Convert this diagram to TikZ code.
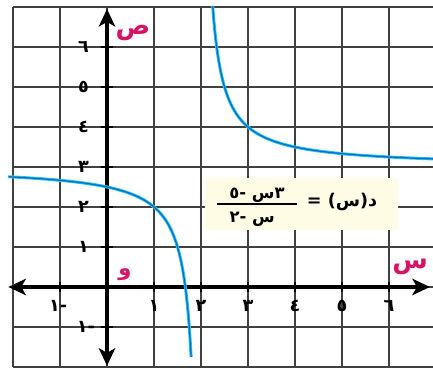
\documentclass[tikz,border=0pt]{standalone}
\usepackage{fontspec}
\newfontfamily\arabicfont[Script=Arabic]{DejaVu Sans}
\TeXXeTstate=1
\usetikzlibrary{arrows.meta}
\definecolor{curveblue}{RGB}{10,110,195}
\definecolor{curvecyan}{RGB}{40,195,240}
\definecolor{lblpink}{RGB}{215,20,100}
\definecolor{boxcream}{RGB}{255,252,230}
\begin{document}
\begin{tikzpicture}[x=1.41cm, y=1.2cm,
  gridline/.style={black!75, line width=0.9pt},
  axis/.style={line width=3pt, {Stealth[length=15pt,width=14pt,inset=4pt]}-{Stealth[length=15pt,width=14pt,inset=4pt]}},
  tick/.style={line width=2.4pt},
  num/.style={font=\arabicfont\bfseries\fontsize{15}{17}\selectfont, inner sep=1pt},
  formula/.style={font=\arabicfont\bfseries\fontsize{14}{16}\selectfont, inner sep=1pt},
  letter/.style={font=\arabicfont\bfseries\fontsize{22}{24}\selectfont, text=lblpink, inner sep=0pt}]
  \useasboundingbox (-2.277,-2.025) rectangle (6.936,7.175);
  % grid
  \foreach \i in {-2,...,6} \draw[gridline] (\i,-2) -- (\i,7);
  \foreach \j in {-2,...,7} \draw[gridline] (-2,\j) -- (6.936,\j);
  \fill[boxcream] (2.09,1.43) rectangle (6.19,2.72);
  \draw[axis] (-2.1,0) -- (6.87,0);
  \draw[axis] (0,-1.97) -- (0,6.95);
  \foreach \i in {-1,1,2,...,6} \draw[tick] (\i,-0.13) -- (\i,0.13);
  \foreach \j in {-1,1,2,...,6} \draw[tick] (-0.13,\j) -- (0.13,\j);
  % axis numbers
  \foreach \i/\d in {1/١,2/٢,3/٣,4/٤,5/٥,6/٦} {
    \node[num] (x\i) at (\i,-0.47) {\d};
    \node[num] (y\i) at (-0.5,\i) {\d};
  }
  \node[num] (xm1) at (-1.04,-0.47) {\beginR-١\endR};
  \node[num] (ym1) at (-0.45,-1) {\beginR-١\endR};
  % axis letters
  \node[letter] (ylbl) at (0.55,6.35) {ص};
  \node[letter] (xlbl) at (6.45,0.5) {س};
  \node[letter, font=\arabicfont\bfseries\fontsize{18}{20}\selectfont] (orig) at (0.38,0.3) {و};
  % the curve
  \begin{scope}
    \clip (-2.277,-2.025) rectangle (6.936,7);
    \foreach \c/\w in {curvecyan/2.6pt, curveblue/1.1pt} {
      \draw[\c, line width=\w, domain=-2.1:1.79, samples=120, smooth] plot (\x,{3+1/(\x-2)});
      \draw[\c, line width=\w, domain=2.13:6.95, samples=200, smooth] plot (\x,{3+1/(\x-2)});
    }
  \end{scope}
  % d(s) = (3s-5)/(s-2)
  \node[formula] (numer) at (3.19,2.3) {\beginR ٣س -٥\endR};
  \node[formula] (denom) at (3.09,1.68) {\beginR س -٢\endR};
  \draw[line width=1.4pt] (2.34,2.08) -- (4.04,2.08);
  \node[formula, font=\arabicfont\bfseries\fontsize{15}{17}\selectfont] (lhs) at (5.0,2.13) {\beginR د(س) =\endR};
\end{tikzpicture}
\end{document}
